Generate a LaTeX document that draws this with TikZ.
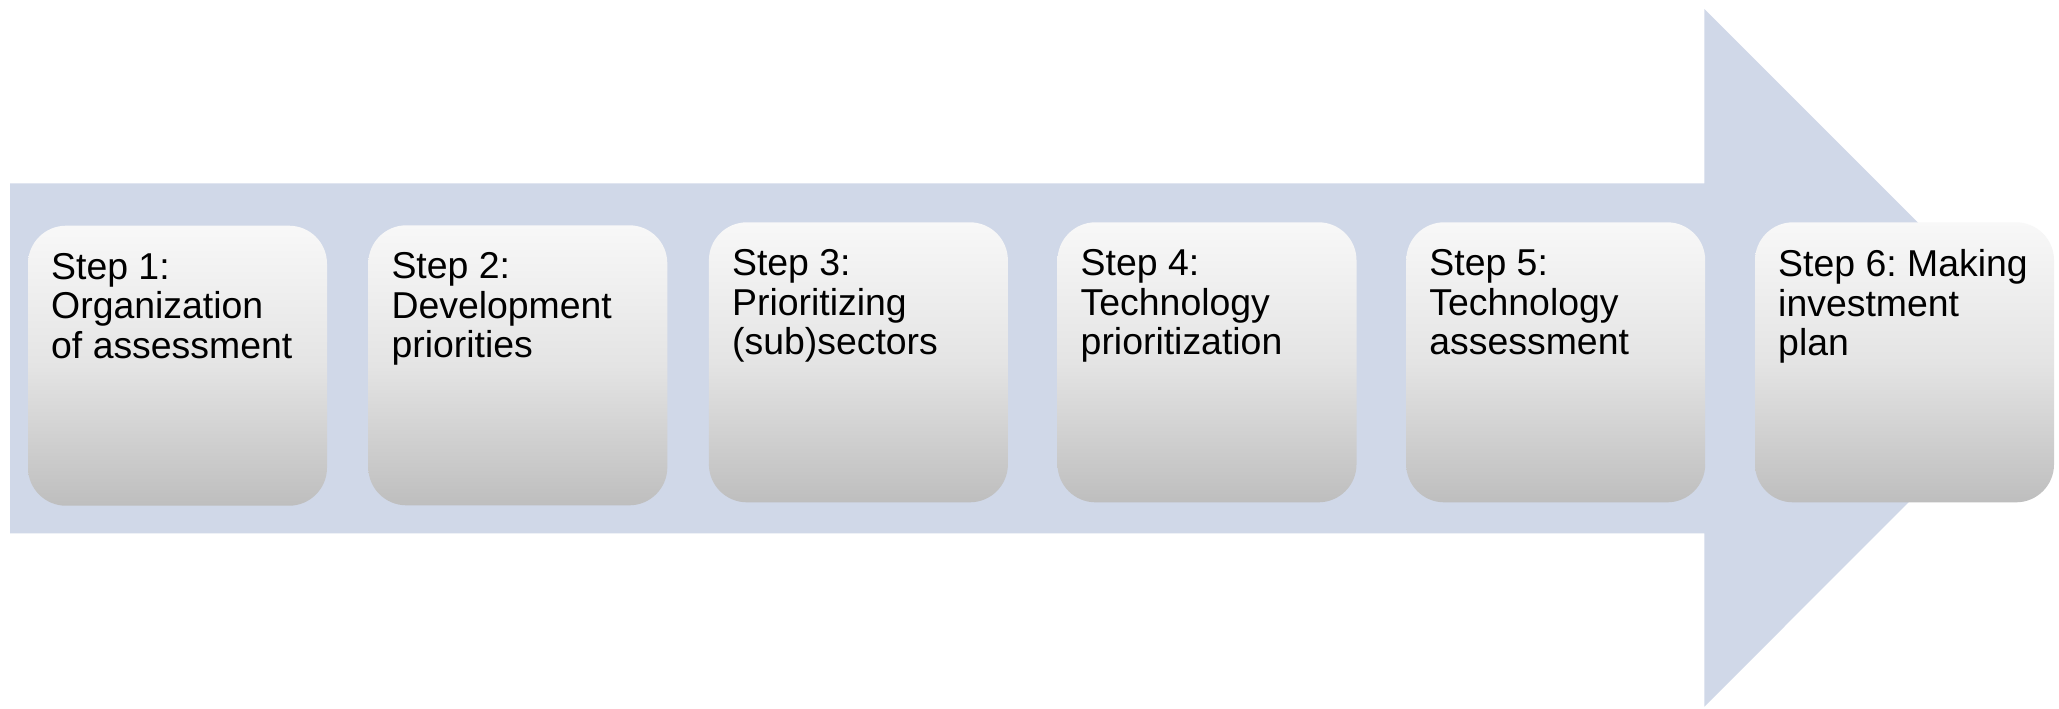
\documentclass[tikz,border=0pt]{standalone}
\usepackage{fontspec}
\setmainfont{Liberation Sans}
\frenchspacing
\definecolor{arrowfill}{RGB}{208,216,232}
\definecolor{boxtop}{RGB}{248,248,248}
\definecolor{boxmid}{RGB}{228,228,228}
\definecolor{boxbot}{RGB}{190,190,190}
\tikzset{
  stepbox/.style={rounded corners=19pt, minimum width=149.5pt, minimum height=140pt,
    inner sep=0pt, top color=boxtop, bottom color=boxbot, middle color=boxmid, draw=none},
  steptext/.style={anchor=north west, inner sep=0pt, align=left, text=black,
    font=\fontsize{18.7}{19.75}\selectfont\frenchspacing},
}
\begin{document}
\begin{tikzpicture}[x=0.5pt,y=-0.5pt]
\useasboundingbox (0,0) rectangle (2059,708);
\fill[white] (0,0) rectangle (2059,708);
% big arrow
\coordinate (a1) at (10,183.3);
\coordinate (a2) at (1704.3,183.3);
\coordinate (a3) at (1704.3,9);
\coordinate (tip) at (2053,357.8);
\coordinate (a5) at (1704.3,706.7);
\coordinate (a6) at (1704.3,533.3);
\coordinate (a7) at (10,533.3);
\fill[arrowfill] (a1) -- (a2) -- (a3) -- (tip) -- (a5) -- (a6) -- (a7) -- cycle;
% boxes
\node[stepbox] (b1) at (177.5,365.7) {};
\node[stepbox] (b2) at (517.8,365.3) {};
\node[stepbox] (b3) at (858.4,362.3) {};
\node[stepbox] (b4) at (1207,362.3) {};
\node[stepbox] (b5) at (1555.7,362.3) {};
\node[stepbox] (b6) at (1904.5,362.3) {};
% texts
\node[steptext] (t1) at ([xshift=11.6pt,yshift=-13.7pt]b1.north west) {Step 1:\\Organization\\of assessment};
\node[steptext] (t2) at ([xshift=11.6pt,yshift=-13.7pt]b2.north west) {Step 2:\\Development\\priorities};
\node[steptext] (t3) at ([xshift=11.6pt,yshift=-13.7pt]b3.north west) {Step 3:\\Prioritizing\\(sub)sectors};
\node[steptext] (t4) at ([xshift=11.6pt,yshift=-13.7pt]b4.north west) {Step 4:\\Technology\\prioritization};
\node[steptext] (t5) at ([xshift=11.6pt,yshift=-13.7pt]b5.north west) {Step 5:\\Technology\\assessment};
\node[steptext] (t6) at ([xshift=11.6pt,yshift=-13.7pt]b6.north west) {Step 6: Making\\investment\\plan};
\end{tikzpicture}
\end{document}
